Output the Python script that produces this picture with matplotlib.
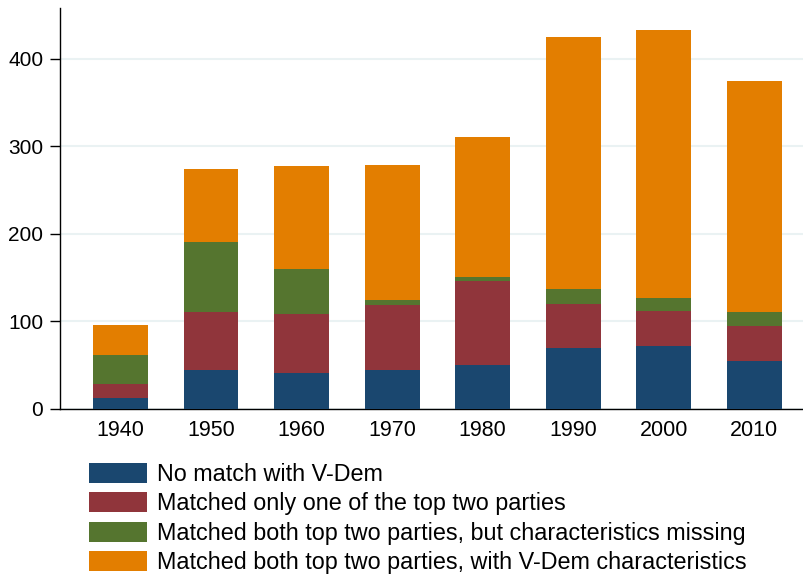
import matplotlib
matplotlib.use("Agg")
import matplotlib.pyplot as plt
import numpy as np

decades = ["1940", "1950", "1960", "1970", "1980", "1990", "2000", "2010"]
no_match = [13, 45, 41, 45, 50, 70, 72, 55]
one_matched = [16, 66, 68, 74, 96, 50, 40, 40]
both_missing = [33, 80, 51, 6, 5, 17, 15, 16]
both_vdem = [34, 83, 117, 154, 160, 288, 306, 264]

labels = [
    "No match with V-Dem",
    "Matched only one of the top two parties",
    "Matched both top two parties, but characteristics missing",
    "Matched both top two parties, with V-Dem characteristics",
]
colors = ["#1a476f", "#90353b", "#55752f", "#e37e00"]

plt.rcParams['font.family'] = ['Liberation Sans', 'DejaVu Sans']

fig = plt.figure(figsize=(8.04, 5.79), dpi=100)
W, H = 804, 579
ax = fig.add_axes([60 / W, 1 - 409 / H, 744 / W, 401 / H])

x = np.arange(len(decades))
bottom = np.zeros(len(decades))
handles = []
for vals, col, lab in zip([no_match, one_matched, both_missing, both_vdem], colors, labels):
    b = ax.bar(x, vals, width=0.607, bottom=bottom, color=col, label=lab, zorder=3)
    handles.append(b)
    bottom += np.array(vals)

ax.set_xlim(-0.668, 7.55)
ax.set_ylim(0, 458)
ax.set_yticks([0, 100, 200, 300, 400])
ax.set_xticks(x)
ax.set_xticklabels(decades)
ax.yaxis.grid(True, color="#eaf2f3", linewidth=1.5, zorder=0)
ax.set_axisbelow(True)
for s in ["top", "right"]:
    ax.spines[s].set_visible(False)
ax.spines["left"].set_linewidth(1.0)
ax.spines["bottom"].set_linewidth(1.0)
ax.tick_params(axis="y", length=7, width=1, pad=5, labelsize=15)
ax.tick_params(axis="x", length=0, pad=8, labelsize=15.5)

fig.legend(handles, labels, loc="upper left",
           bbox_to_anchor=(89 / W, 1 - 463 / H),
           frameon=False, fontsize=16.8, borderpad=0, borderaxespad=0,
           handlelength=2.49, handleheight=0.94, handletextpad=0.43,
           labelspacing=0.27)

fig.savefig("out.png", dpi=100)
